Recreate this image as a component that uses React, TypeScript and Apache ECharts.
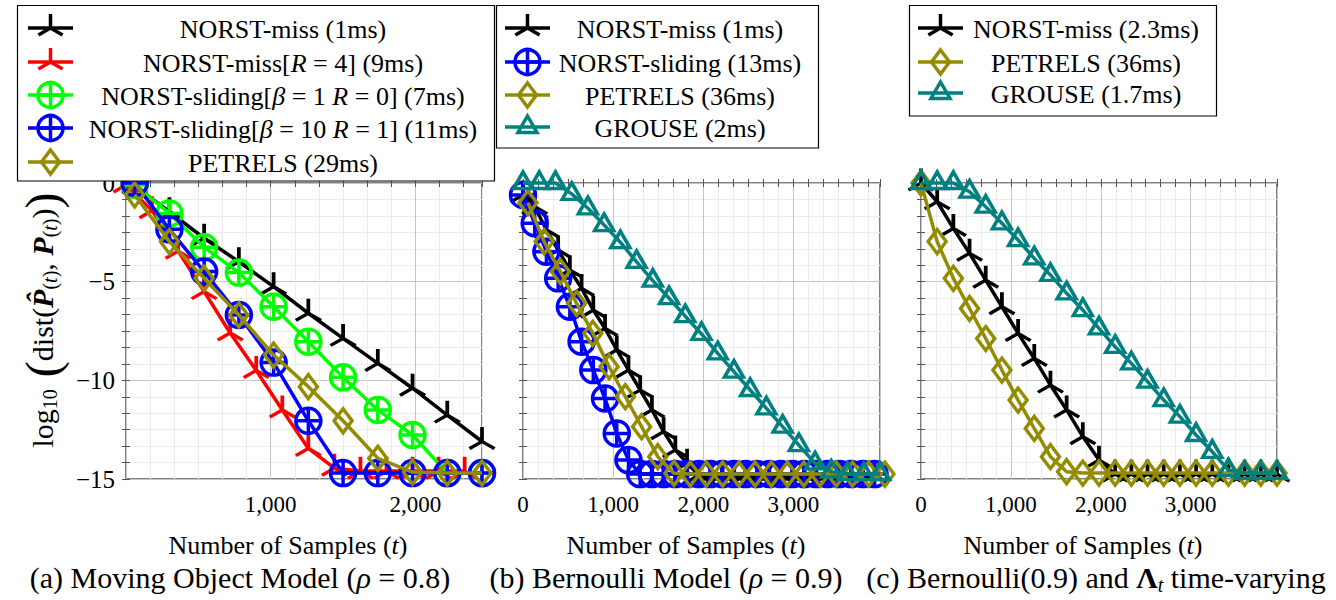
import React, { useEffect, useRef } from 'react';
import * as echarts from 'echarts';

const FONT = "'Liberation Serif', 'DejaVu Serif', serif";
const font = (size: number, style = 'normal', weight = 'normal') => `${style} ${weight} ${size}px ${FONT}`;

// ---------- Panel (a): Moving Object Model ----------
const aX = [60, 300, 540, 780, 1020, 1260, 1500, 1740, 1980, 2220, 2460];
const aXRed = [0, 180, 360, 540, 720, 900, 1080, 1260, 1440, 1620, 1800, 1980, 2160, 2340];
const aNorstMiss = [-0.15, -1.45, -2.8, -3.99, -5.25, -6.6, -7.87, -9.14, -10.4, -11.76, -13.1];
const aNorstMissR4 = [-0.1, -1.4, -3.45, -5.5, -7.6, -9.5, -11.5, -13.45, -14.45, -14.6, -14.6, -14.6, -14.6, -14.6];
const aSlidingB1 = [-0.1, -1.54, -3.26, -4.54, -6.27, -8.04, -9.85, -11.5, -12.77, -14.7, -14.7];
const aSlidingB10 = [0, -2.35, -4.49, -6.69, -9.1, -12.05, -14.7, -14.7, -14.7, -14.7, -14.7];
const aPetrels = [-0.6, -2.97, -4.83, -6.69, -8.72, -10.32, -12.05, -13.95, -14.65, -14.7, -14.7];

// ---------- Panel (b): Bernoulli Model ----------
const bX130 = [0, 130, 260, 390, 520, 650, 780, 910, 1040, 1170, 1300, 1430, 1560, 1690, 1820, 1950, 2080, 2210, 2340, 2470, 2600, 2730, 2860, 2990, 3120, 3250, 3380, 3510, 3640, 3770, 3900];
const bX180 = [0, 180, 360, 540, 720, 900, 1080, 1260, 1440, 1620, 1800, 1980, 2160, 2340, 2520, 2700, 2880, 3060, 3240, 3420, 3600, 3780, 3960];
const bXPetrels = [55, 235, 415, 595, 775, 955, 1135, 1315, 1495, 1675, 1855, 2035, 2215, 2395, 2575, 2755, 2935, 3115, 3295, 3475, 3655, 3835, 4015];
const bNorstMiss = [-0.6, -1.2, -2.38, -3.4, -4.41, -5.34, -6.44, -7.37, -8.46, -9.48, -10.49, -11.5, -12.6, -13.53, -14.2, -14.8, -14.8, -14.8, -14.8, -14.8, -14.8, -14.8, -14.8, -14.8, -14.8, -14.8, -14.8, -14.8, -14.8, -14.8, -14.8];
const bSliding = [-0.61, -2.04, -3.48, -4.83, -6.27, -8.04, -9.48, -10.92, -12.69, -14.04, -14.75, -14.75, -14.75, -14.75, -14.75, -14.75, -14.75, -14.75, -14.75, -14.75, -14.75, -14.75, -14.75, -14.75, -14.75, -14.75, -14.75, -14.75, -14.75, -14.75, -14.75];
const bPetrels = [-1.0, -2.97, -4.49, -6.1, -7.62, -9.31, -10.83, -12.35, -13.87, -14.71, -14.75, -14.75, -14.75, -14.75, -14.75, -14.75, -14.75, -14.75, -14.75, -14.75, -14.75, -14.75, -14.75];
const bGrouse = [0, 0, 0, -0.55, -1.28, -2.13, -3.0, -4.0, -4.95, -5.84, -6.75, -7.65, -8.63, -9.56, -10.49, -11.42, -12.35, -13.28, -14.21, -14.63, -14.75, -14.75, -14.75];

// ---------- Panel (c): Bernoulli(0.9), time-varying ----------
const cX = [0, 180, 360, 540, 720, 900, 1080, 1260, 1440, 1620, 1800, 1980, 2160, 2340, 2520, 2700, 2880, 3060, 3240, 3420, 3600, 3780, 3960];
const cNorstMiss = [0, -0.95, -2.3, -3.56, -4.92, -6.27, -7.62, -8.89, -10.24, -11.5, -12.85, -14.04, -14.75, -14.75, -14.75, -14.75, -14.75, -14.75, -14.75, -14.75, -14.75, -14.75, -14.75];
const cPetrels = [0, -2.97, -4.83, -6.36, -7.88, -9.48, -11.0, -12.44, -13.87, -14.63, -14.7, -14.7, -14.7, -14.7, -14.7, -14.7, -14.7, -14.7, -14.7, -14.7, -14.7, -14.7, -14.7];
const cGrouse = [0, 0, 0, -0.44, -1.2, -2.04, -2.89, -3.82, -4.66, -5.59, -6.44, -7.37, -8.3, -9.14, -10.07, -11.0, -11.84, -12.77, -13.62, -14.55, -14.7, -14.7, -14.7];

// axis settings
const yTicksMajor = [0, -5, -10, -15];
const xMaxes = [2460, 3960, 3960];
const xMajor = 1000;
const yMajor = 5;

// legends
const legendA = [
  { text: '{n|NORST-miss (1ms)}', color: '#000000', marker: 'tri' },
  { text: '{n|NORST-miss[}{i|R}{n| = 4] (9ms)}', color: '#ff0000', marker: 'tri' },
  { text: '{n|NORST-sliding[}{i|β}{n| = 1 }{i|R}{n| = 0] (7ms)}', color: '#00ff00', marker: 'oplus' },
  { text: '{n|NORST-sliding[}{i|β}{n| = 10 }{i|R}{n| = 1] (11ms)}', color: '#0000ff', marker: 'oplus' },
  { text: '{n|PETRELS (29ms)}', color: '#948c00', marker: 'diamond' },
];
const legendB = [
  { text: '{n|NORST-miss (1ms)}', color: '#000000', marker: 'tri' },
  { text: '{n|NORST-sliding (13ms)}', color: '#0000ff', marker: 'oplus' },
  { text: '{n|PETRELS (36ms)}', color: '#948c00', marker: 'diamond' },
  { text: '{n|GROUSE (2ms)}', color: '#008080', marker: 'triangle' },
];
const legendC = [
  { text: '{n|NORST-miss (2.3ms)}', color: '#000000', marker: 'tri' },
  { text: '{n|PETRELS (36ms)}', color: '#948c00', marker: 'diamond' },
  { text: '{n|GROUSE (1.7ms)}', color: '#008080', marker: 'triangle' },
];

const COLORS = {
  black: '#000000', red: '#ff0000', green: '#00ff00', blue: '#0000ff', olive: '#948c00', teal: '#008080',
};

const LW = 3.5;

const SYM = {
  tri: { path: 'path://M0,0L0,-1M0,0L-0.866,0.5M0,0L0.866,0.5', size: [25, 21.6], offset: [0, -3.6] },
  oplus: {
    path: 'path://M1,0C1,0.5523,0.5523,1,0,1C-0.5523,1,-1,0.5523,-1,0C-1,-0.5523,-0.5523,-1,0,-1C0.5523,-1,1,-0.5523,1,0ZM-1,0L1,0M0,-1L0,1',
    size: [25, 25], offset: [0, 0],
  },
  diamond: { path: 'path://M0,-1L1,0L0,1L-1,0Z', size: [18, 24], offset: [0, 0] },
  triangle: { path: 'path://M0,-1L0.866,0.5L-0.866,0.5Z', size: [19, 16.5], offset: [0, -2.75] },
};

const GRIDS = [
  { left: 126, top: 183, width: 356, height: 296 },
  { left: 523, top: 183, width: 357, height: 296 },
  { left: 921, top: 183, width: 356, height: 296 },
];

const MAJ = '#c4c4c4';
const MIN = '#ececec';

function mkSeries(name: string, xs: number[], ys: number[], color: string, sym: any, gi: number, z: number) {
  return {
    type: 'line',
    name,
    xAxisIndex: gi * 2,
    yAxisIndex: gi * 2,
    data: xs.map((x, i) => [x, ys[i]]),
    symbol: sym.path,
    symbolSize: sym.size,
    symbolOffset: sym.offset,
    showSymbol: true,
    clip: false,
    z,
    silent: true,
    lineStyle: { color, width: LW },
    itemStyle: { color: 'none', borderColor: color, borderWidth: LW },
    emphasis: { disabled: true },
  };
}

function xFmt(showZero: boolean) {
  return (v: number) => {
    const k = v / xMajor;
    if (Math.abs(k - Math.round(k)) > 1e-6) return '';
    const r = Math.round(k) * xMajor;
    if (r === 0) return showZero ? '{n|0}' : '';
    return '{n|' + r.toLocaleString('en-US') + '}';
  };
}
function yFmt(v: number) {
  const k = v / yMajor;
  if (Math.abs(k - Math.round(k)) > 1e-6) return '';
  const r = Math.round(k) * yMajor;
  if (!yTicksMajor.includes(r)) return '';
  return '{n|' + (r < 0 ? '\u2212' + Math.abs(r) : String(r)) + '}';
}

const tickStyle = { color: '#555', width: 1 };
const labelRichX = { n: { fontFamily: FONT, fontSize: 23, color: '#000' } };
const labelRichY = { n: { fontFamily: FONT, fontSize: 25, color: '#000' } };

function buildAxes() {
  const xAxis: any[] = [];
  const yAxis: any[] = [];
  for (let gi = 0; gi < 3; gi++) {
    const common = { type: 'value', gridIndex: gi, min: 0, max: xMaxes[gi], interval: xMajor / 6 };
    xAxis.push({
      ...common,
      position: 'bottom',
      axisLine: { show: false },
      axisTick: { show: true, inside: true, length: 4, lineStyle: tickStyle },
      axisLabel: { show: true, margin: 14, fontFamily: FONT, fontSize: 23, color: '#000', formatter: xFmt(gi !== 0), rich: labelRichX },
      splitLine: { show: true, lineStyle: { color: [MAJ, MIN, MIN, MIN, MIN, MIN], width: 1 } },
    });
    xAxis.push({
      ...common,
      position: 'top',
      axisLine: { show: false },
      axisTick: { show: true, inside: true, length: 4, lineStyle: tickStyle },
      axisLabel: { show: false },
      splitLine: { show: false },
    });
    const ycommon = { type: 'value', gridIndex: gi, min: -15, max: 0, interval: yMajor / 6 };
    yAxis.push({
      ...ycommon,
      position: 'left',
      axisLine: { show: false },
      axisTick: { show: true, inside: true, length: 4, lineStyle: tickStyle },
      axisLabel: { show: gi === 0, margin: 11, fontFamily: FONT, fontSize: 25, color: '#000', formatter: yFmt, rich: labelRichY },
      splitLine: { show: true, lineStyle: { color: [MAJ, MIN, MIN, MIN, MIN, MIN], width: 1 } },
    });
    yAxis.push({
      ...ycommon,
      position: 'right',
      axisLine: { show: false },
      axisTick: { show: true, inside: true, length: 4, lineStyle: tickStyle },
      axisLabel: { show: false },
      splitLine: { show: false },
    });
  }
  return { xAxis, yAxis };
}

function markerGraphic(kind: string, cx: number, cy: number, color: string): any[] {
  const st = { stroke: color, lineWidth: LW, fill: 'none' };
  const Z = 102;
  if (kind === 'tri') {
    const r = 14;
    return [
      { type: 'line', z: Z, shape: { x1: cx, y1: cy, x2: cx, y2: cy - r }, style: st },
      { type: 'line', z: Z, shape: { x1: cx, y1: cy, x2: cx - 0.866 * r, y2: cy + 0.5 * r }, style: st },
      { type: 'line', z: Z, shape: { x1: cx, y1: cy, x2: cx + 0.866 * r, y2: cy + 0.5 * r }, style: st },
    ];
  }
  if (kind === 'oplus') {
    const r = 12.5;
    return [
      { type: 'circle', z: Z, shape: { cx, cy, r }, style: st },
      { type: 'line', z: Z, shape: { x1: cx - r, y1: cy, x2: cx + r, y2: cy }, style: st },
      { type: 'line', z: Z, shape: { x1: cx, y1: cy - r, x2: cx, y2: cy + r }, style: st },
    ];
  }
  if (kind === 'diamond') {
    return [{ type: 'polygon', z: Z, shape: { points: [[cx, cy - 12], [cx + 9, cy], [cx, cy + 12], [cx - 9, cy]] }, style: st }];
  }
  const r = 11;
  return [{ type: 'polygon', z: Z, shape: { points: [[cx, cy - r], [cx + 0.866 * r, cy + 0.5 * r], [cx - 0.866 * r, cy + 0.5 * r]] }, style: st }];
}

const legendRich = {
  n: { fontFamily: FONT, fontSize: 26, color: '#000' },
  i: { fontFamily: FONT, fontSize: 26, fontStyle: 'italic', color: '#000' },
};

function legendGraphic(items: any[], box: number[], rows: number[], lineX: number[], textCx: number): any[] {
  const out: any[] = [];
  out.push({
    type: 'rect', z: 100,
    shape: { x: box[0], y: box[1], width: box[2], height: box[3] },
    style: { fill: '#ffffff', stroke: '#000', lineWidth: 1.2 },
  });
  items.forEach((it, i) => {
    const cy = rows[i];
    out.push({ type: 'line', z: 101, shape: { x1: lineX[0], y1: cy, x2: lineX[1], y2: cy }, style: { stroke: it.color, lineWidth: LW } });
    out.push(...markerGraphic(it.marker, (lineX[0] + lineX[1]) / 2, cy, it.color));
    out.push({
      type: 'text', z: 102, x: textCx, y: cy + 1,
      style: {
        text: it.text, font: font(26), fill: '#000',
        textAlign: 'center', textVerticalAlign: 'middle',
        rich: legendRich,
      },
    });
  });
  return out;
}

function textEl(x: number, y: number, text: string, size: number, rich: any, align = 'center') {
  return {
    type: 'text', z: 102, x, y,
    style: { text, font: font(size), fill: '#000', textAlign: align, textVerticalAlign: 'middle', rich },
  };
}

export default function App() {
  const ref = useRef<HTMLDivElement>(null);
  useEffect(() => {
    if (!ref.current) return;
    const chart = echarts.init(ref.current, undefined, { renderer: 'svg' });
    const { xAxis, yAxis } = buildAxes();

    const series = [
      mkSeries('NORST-miss (1ms)', aX, aNorstMiss, COLORS.black, SYM.tri, 0, 2),
      mkSeries('NORST-miss[R=4] (9ms)', aXRed, aNorstMissR4, COLORS.red, SYM.tri, 0, 3),
      mkSeries('NORST-sliding[b=1 R=0] (7ms)', aX, aSlidingB1, COLORS.green, SYM.oplus, 0, 4),
      mkSeries('NORST-sliding[b=10 R=1] (11ms)', aX, aSlidingB10, COLORS.blue, SYM.oplus, 0, 5),
      mkSeries('PETRELS (29ms)', aX, aPetrels, COLORS.olive, SYM.diamond, 0, 6),

      mkSeries('NORST-miss (1ms) b', bX130, bNorstMiss, COLORS.black, SYM.tri, 1, 2),
      mkSeries('NORST-sliding (13ms)', bX130, bSliding, COLORS.blue, SYM.oplus, 1, 3),
      mkSeries('PETRELS (36ms) b', bXPetrels, bPetrels, COLORS.olive, SYM.diamond, 1, 4),
      mkSeries('GROUSE (2ms)', bX180, bGrouse, COLORS.teal, SYM.triangle, 1, 5),

      mkSeries('NORST-miss (2.3ms)', cX, cNorstMiss, COLORS.black, SYM.tri, 2, 2),
      mkSeries('PETRELS (36ms) c', cX, cPetrels, COLORS.olive, SYM.diamond, 2, 3),
      mkSeries('GROUSE (1.7ms)', cX, cGrouse, COLORS.teal, SYM.triangle, 2, 4),
    ];

    const nameRich = {
      n: { fontFamily: FONT, fontSize: 26, color: '#000' },
      i: { fontStyle: 'italic', fontFamily: FONT, fontSize: 26, color: '#000' },
    };
    const capRich = {
      n: { fontFamily: FONT, fontSize: 30, color: '#000' },
      i: { fontStyle: 'italic', fontFamily: FONT, fontSize: 30, color: '#000' },
      b: { fontWeight: 'bold', fontFamily: FONT, fontSize: 30, color: '#000' },
      s: { fontStyle: 'italic', fontFamily: FONT, fontSize: 20, padding: [16, 0, 0, 0], color: '#000' },
    };
    const yRich = {
      n: { fontFamily: FONT, fontSize: 30, color: '#000' },
      s: { fontFamily: FONT, fontSize: 20, padding: [16, 0, 0, 0], color: '#000' },
      si: { fontFamily: FONT, fontSize: 20, fontStyle: 'italic', padding: [16, 0, 0, 0], color: '#000' },
      p: { fontFamily: FONT, fontSize: 48, color: '#000' },
      b: { fontFamily: FONT, fontSize: 30, fontWeight: 'bold', fontStyle: 'italic', color: '#000' },
    };

    const graphic: any[] = [
      ...legendGraphic(legendA, [17.5, 5.5, 477, 175.5], [28, 62, 95, 128, 162], [28, 73], 283),
      ...legendGraphic(legendB, [496.5, 5.5, 322, 142.5], [28, 62, 95, 127], [505, 550], 680),
      ...legendGraphic(legendC, [909.5, 5.5, 307, 110.5], [28, 62, 93], [918, 963], 1086),
      textEl(288, 545, '{n|Number of Samples (}{i|t}{n|)}', 26, nameRich),
      textEl(686, 545, '{n|Number of Samples (}{i|t}{n|)}', 26, nameRich),
      textEl(1083, 545, '{n|Number of Samples (}{i|t}{n|)}', 26, nameRich),
      textEl(240, 577, '{n|(a) Moving Object Model (}{i|ρ}{n| = 0.8)}', 30, capRich),
      textEl(666, 577, '{n|(b) Bernoulli Model (}{i|ρ}{n| = 0.9)}', 30, capRich),
      textEl(1096, 577, '{n|(c) Bernoulli(0.9) and }{b|Λ}{s|t}{n| time-varying}', 30, capRich),
      {
        type: 'text', z: 102, x: 42, y: 320, rotation: Math.PI / 2,
        style: {
          text: '{n|log}{s|10}{p| (}{n|dist(}{b|P̂}{s|(}{si|t}{s|)}{n|, }{b|P}{s|(}{si|t}{s|)}{n|)}{p|)}',
          font: font(30), fill: '#000', textAlign: 'center', textVerticalAlign: 'middle', rich: yRich,
        },
      },
    ];

    chart.setOption({
      animation: false,
      backgroundColor: '#ffffff',
      textStyle: { fontFamily: FONT },
      grid: GRIDS.map((g) => ({ ...g, show: true, borderColor: '#000', borderWidth: 1, backgroundColor: 'transparent', containLabel: false })),
      xAxis,
      yAxis,
      series,
      graphic,
    });
    return () => chart.dispose();
  }, []);
  return <div ref={ref} style={{ position: 'absolute', left: 0, top: 0, width: 1336, height: 600 }} />;
}
